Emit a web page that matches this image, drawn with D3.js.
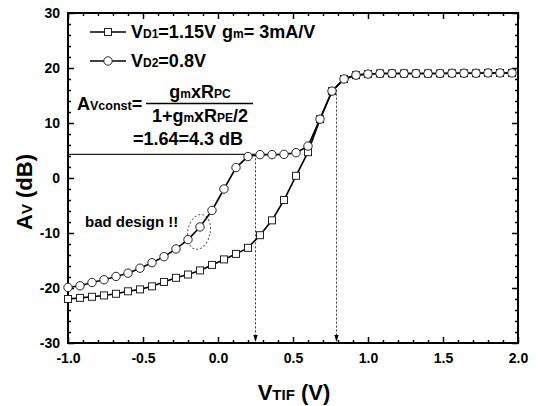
<!DOCTYPE html>
<html>
<head>
<meta charset="utf-8">
<script src="https://cdn.jsdelivr.net/npm/d3@7"></script>
<style>
  html, body { margin: 0; padding: 0; background: #fff; }
  svg { display: block; }
  text { font-family: "Liberation Sans", Arial, sans-serif; font-weight: bold; fill: #000; }
</style>
</head>
<body>
<svg id="chart" width="538" height="406"></svg>
<script>
// ---- data ----
const vtif = [-1.00,-0.92,-0.84,-0.76,-0.68,-0.60,-0.52,-0.44,-0.36,-0.28,-0.20,-0.12,-0.04,0.04,0.12,0.20,0.28,0.36,0.44,0.52,0.60,0.68,0.76,0.84,0.92,1.00,1.08,1.16,1.24,1.32,1.40,1.48,1.56,1.64,1.72,1.80,1.88,1.96];
const avD1 = [-22.0,-21.8,-21.6,-21.35,-21.05,-20.6,-20.25,-19.7,-18.9,-18.15,-17.55,-16.8,-15.8,-14.8,-13.8,-12.7,-10.4,-7.7,-4.0,0.4,4.7,10.7,15.8,18.0,18.7,18.9,19.0,19.0,19.0,19.0,19.0,19.0,19.05,19.05,19.05,19.1,19.1,19.1];
const avD2 = [-19.9,-19.6,-19.0,-18.5,-17.9,-17.3,-16.4,-15.4,-14.3,-12.9,-11.2,-8.9,-5.9,-2.0,1.9,3.9,4.25,4.25,4.3,4.6,5.8,10.7,15.8,18.0,18.7,18.9,19.0,19.0,19.0,19.0,19.0,19.0,19.05,19.05,19.05,19.1,19.1,19.1];
const xTicks = [-1.0,-0.5,0.0,0.5,1.0,1.5,2.0];
const yTicks = [-30,-20,-10,0,10,20,30];
const xMinor = [-0.9,-0.8,-0.7,-0.6,-0.4,-0.3,-0.2,-0.1,0.1,0.2,0.3,0.4,0.6,0.7,0.8,0.9,1.1,1.2,1.3,1.4,1.6,1.7,1.8,1.9];
const yMinor = [-28,-26,-24,-22,-18,-16,-14,-12,-8,-6,-4,-2,2,4,6,8,12,14,16,18,22,24,26,28];
const avConstDb = 4.3;
const markV = [0.25, 0.79];
const markTop = [4.3, 16.8];
const ellipseC = [-0.127, -9.8];
const ellipseR = [0.075, 3.2];

// ---- layout ----
const svg = d3.select("#chart");
const x = d3.scaleLinear().domain([-1, 2]).range([68, 518]);
const y = d3.scaleLinear().domain([-30, 30]).range([343, 13]);
const x0 = x.range()[0], x1 = x.range()[1], y0 = y.range()[0], y1 = y.range()[1];

// axes: ticks inward on all four sides
function drawAxis(gen, transform, minorVals, majorVals, labels, fmt, pad) {
  const g = svg.append("g").attr("transform", transform);
  g.call(gen(x === null ? null : undefined));
}
const fmtX = d => d.toFixed(1);
const fmtY = d => String(d);

// bottom
svg.append("g").attr("transform", `translate(0,${y0})`)
  .call(d3.axisBottom(x).tickValues(xMinor).tickSize(-3).tickFormat(""));
svg.append("g").attr("class","xax").attr("transform", `translate(0,${y0})`)
  .call(d3.axisBottom(x).tickValues(xTicks).tickSize(-6).tickPadding(10).tickFormat(fmtX));
// top
svg.append("g").attr("transform", `translate(0,${y1})`)
  .call(d3.axisTop(x).tickValues(xMinor).tickSize(-3).tickFormat(""));
svg.append("g").attr("transform", `translate(0,${y1})`)
  .call(d3.axisTop(x).tickValues(xTicks).tickSize(-6).tickFormat(""));
// left
svg.append("g").attr("transform", `translate(${x0},0)`)
  .call(d3.axisLeft(y).tickValues(yMinor).tickSize(-3).tickFormat(""));
svg.append("g").attr("class","yax").attr("transform", `translate(${x0},0)`)
  .call(d3.axisLeft(y).tickValues(yTicks).tickSize(-6).tickPadding(8).tickFormat(fmtY));
// right
svg.append("g").attr("transform", `translate(${x1},0)`)
  .call(d3.axisRight(y).tickValues(yMinor).tickSize(-3).tickFormat(""));
svg.append("g").attr("transform", `translate(${x1},0)`)
  .call(d3.axisRight(y).tickValues(yTicks).tickSize(-6).tickFormat(""));

svg.selectAll(".domain").remove();
svg.selectAll(".tick line").attr("stroke", "#000").attr("stroke-width", 1.5);
svg.selectAll(".xax text, .yax text").style("font-size", "14px")
  .style("font-family", '"Liberation Sans", Arial, sans-serif').style("font-weight", "bold");

svg.append("rect").attr("x", x0).attr("y", y1).attr("width", x1 - x0).attr("height", y0 - y1)
  .attr("fill", "none").attr("stroke", "#000").attr("stroke-width", 2);

// ---- annotation lines ----
svg.append("line").attr("x1", x(-1)).attr("x2", x(markV[0])).attr("y1", y(avConstDb)).attr("y2", y(avConstDb))
  .attr("stroke", "#222").attr("stroke-width", 1.2);
markV.forEach((v, i) => {
  svg.append("line").attr("x1", x(v)).attr("x2", x(v)).attr("y1", y(markTop[i])).attr("y2", y(-30) - 4)
    .attr("stroke", "#333").attr("stroke-width", 1).attr("stroke-dasharray", "2,2");
  const ax = x(v), ay = y(-30) - 1;
  svg.append("path").attr("d", `M${ax-2.2},${ay-7}L${ax+2.2},${ay-7}L${ax},${ay}Z`).attr("fill", "#000");
});
svg.append("ellipse")
  .attr("cx", x(ellipseC[0])).attr("cy", y(ellipseC[1]))
  .attr("rx", x(ellipseC[0] + ellipseR[0]) - x(ellipseC[0]))
  .attr("ry", y(ellipseC[1] - ellipseR[1]) - y(ellipseC[1]))
  .attr("transform", `rotate(12,${x(ellipseC[0])},${y(ellipseC[1])})`)
  .attr("fill", "none").attr("stroke", "#555").attr("stroke-width", 1).attr("stroke-dasharray", "2,2");

// ---- series ----
const d1 = vtif.map((v, i) => [v, avD1[i]]);
const d2 = vtif.map((v, i) => [v, avD2[i]]);
const line = d3.line().x(d => x(d[0])).y(d => y(d[1]));
svg.append("path").attr("d", line(d1)).attr("fill", "none").attr("stroke", "#000").attr("stroke-width", 1.6);
svg.append("path").attr("d", line(d2)).attr("fill", "none").attr("stroke", "#000").attr("stroke-width", 1.6);
const sq = 7;
svg.append("g").selectAll("rect").data(d1).join("rect")
  .attr("x", d => x(d[0]) - sq / 2).attr("y", d => y(d[1]) - sq / 2)
  .attr("width", sq).attr("height", sq)
  .attr("fill", "#fff").attr("stroke", "#222").attr("stroke-width", 1);
svg.append("g").selectAll("circle").data(d2).join("circle")
  .attr("cx", d => x(d[0])).attr("cy", d => y(d[1])).attr("r", 4.2)
  .attr("fill", "#fff").attr("stroke", "#222").attr("stroke-width", 1);

// ---- legend ----
function rich(xp, yp, parts, anchor) {
  const t = svg.append("text").attr("x", xp).attr("y", yp).attr("text-anchor", anchor || "start");
  parts.forEach(p => t.append("tspan").text(p[0]).style("font-size", p[1] + "px"));
  return t;
}
const lg = [[32, "sq", [["V",18],["D1",12],["=1.15V",18]]], [61, "ci", [["V",18],["D2",12],["=0.8V",18]]]];
lg.forEach(([ly, kind, parts]) => {
  svg.append("line").attr("x1", 90).attr("x2", 126).attr("y1", ly).attr("y2", ly).attr("stroke", "#000").attr("stroke-width", 1.6);
  if (kind === "sq") svg.append("rect").attr("x", 108 - sq/2).attr("y", ly - sq/2).attr("width", sq).attr("height", sq)
    .attr("fill", "#fff").attr("stroke", "#222");
  else svg.append("circle").attr("cx", 108).attr("cy", ly).attr("r", 4.2).attr("fill", "#fff").attr("stroke", "#222");
  rich(131, ly + 6, parts);
});
rich(222, 38, [["g",18],["m",12],["= 3mA/V",18]]);

// ---- formula ----
rich(77, 110, [["A",18],["Vconst",12.5],["=",18]]);
svg.append("line").attr("x1", 146).attr("x2", 253).attr("y1", 103.5).attr("y2", 103.5).attr("stroke", "#000").attr("stroke-width", 1.6);
rich(200, 98, [["g",18],["m",12],["xR",18],["PC",12]], "middle");
rich(200, 122, [["1+g",18],["m",12],["xR",18],["PE",12],["/2",18]], "middle");
rich(133, 145, [["=1.64=4.3 dB",18]]);

svg.append("text").attr("x", 85).attr("y", 227).style("font-size", "15px").text("bad design !!");

// ---- axis titles ----
rich(294, 400, [["V",22],["TIF",15],[" (V)",22]], "middle");
const yt = svg.append("text").attr("transform", "translate(32,192) rotate(-90)").attr("text-anchor", "middle");
[["A",22],["V",15],[" (dB)",22]].forEach(p => yt.append("tspan").text(p[0]).style("font-size", p[1] + "px"));
</script>
</body>
</html>
